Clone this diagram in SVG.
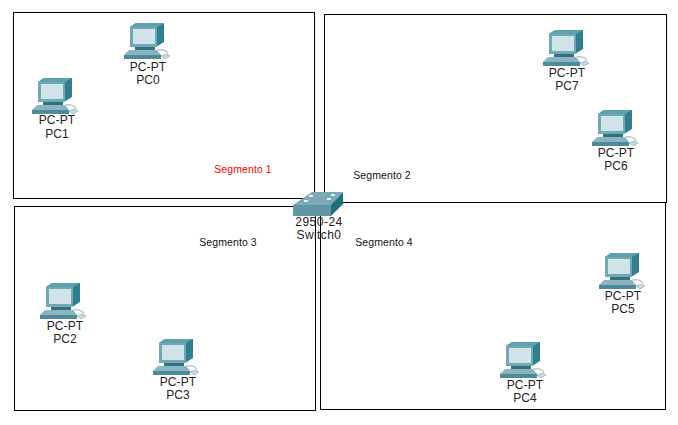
<svg xmlns="http://www.w3.org/2000/svg" width="678" height="425" viewBox="0 0 678 425">
<style>
text{font-family:"Liberation Sans",Arial,sans-serif;font-size:12px;fill:#222;text-anchor:middle;letter-spacing:.1px}
.seg{fill:none;stroke:#000;stroke-width:1}
.lab{font-size:10.5px;fill:#111}
</style>
<defs>
<g id="pc">
<path d="M-15 -20 L-9 -24 L19 -24 L19 -5 L11 0 L-15 0 Z" fill="#2f7f90"/>
<path d="M-15 -20 L-9 -24 L19 -24 L12 -20 Z" fill="#5fa0ae"/>
<path d="M-15 -20 L12 -20 L12 0 L-15 0 Z" fill="#6fa9b6"/>
<rect x="-12" y="-18" width="22" height="15" fill="#cfe3e8"/>
<path d="M-10 0 L10 0 L10 3 L-10 3 Z" fill="#3a6f7e"/>
<path d="M-16 3 L12 3 L16 8 L-21 8 Z" fill="#8ab5c0"/>
<path d="M-21 8 L16 8 L16 12 L-21 12 Z" fill="#4f8a98"/>
<path d="M12 3 C19 2 22 4 23 7" fill="none" stroke="#b9ccd2" stroke-width="1.500"/>
<path d="M16 9 L21 7 L25 9 L20 12 Z" fill="#c8d8dc" stroke="#7d9aa3" stroke-width=".5"/>
</g>
</defs>
<g id="segments">
<rect class="seg" x="13.500" y="12.500" width="301" height="186"/>
<rect class="seg" x="324.500" y="14.500" width="342" height="188"/>
<rect class="seg" x="14.500" y="206.500" width="301" height="204"/>
<rect class="seg" x="320.500" y="202.500" width="345" height="207"/>
</g>
<g id="PC0"><use href="#pc" x="145" y="47"/><text x="148" y="71">PC-PT</text><text x="148" y="84">PC0</text></g>
<g id="PC1"><use href="#pc" x="53" y="102"/><text x="57" y="124">PC-PT</text><text x="57" y="138">PC1</text></g>
<g id="PC7"><use href="#pc" x="564" y="54"/><text x="567" y="77">PC-PT</text><text x="567" y="90">PC7</text></g>
<g id="PC6"><use href="#pc" x="613" y="134"/><text x="616" y="157">PC-PT</text><text x="616" y="170">PC6</text></g>
<g id="PC2"><use href="#pc" x="61" y="307"/><text x="65" y="330">PC-PT</text><text x="65" y="343">PC2</text></g>
<g id="PC3"><use href="#pc" x="174" y="363"/><text x="178" y="386">PC-PT</text><text x="178" y="399">PC3</text></g>
<g id="PC5"><use href="#pc" x="620" y="277"/><text x="623" y="300">PC-PT</text><text x="623" y="313">PC5</text></g>
<g id="PC4"><use href="#pc" x="521" y="366"/><text x="525" y="389">PC-PT</text><text x="525" y="402">PC4</text></g>
<g id="Switch0">
<path d="M293 205 L312 192 L343 192 L331 205 Z" fill="#7ba9b6"/>
<path d="M293 205 L331 205 L331 216 L293 216 Z" fill="#5f95a5"/>
<path d="M331 205 L343 192 L343 204 L331 216 Z" fill="#1f6f80"/>
<g fill="#dfeef2"><rect x="309" y="195" width="4" height="2"/><rect x="331" y="194" width="4" height="2"/><rect x="304" y="200" width="4" height="2"/><rect x="327" y="198" width="4" height="2"/></g>
<text x="319" y="226" style="letter-spacing:.5px">2950-24</text><text x="319" y="239" style="letter-spacing:.4px">Switch0</text>
</g>
<g id="labels">
<text class="lab" x="243" y="173" style="fill:#f00">Segmento 1</text>
<text class="lab" x="382" y="179">Segmento 2</text>
<text class="lab" x="228" y="246">Segmento 3</text>
<text class="lab" x="384" y="246">Segmento 4</text>
</g>
</svg>
